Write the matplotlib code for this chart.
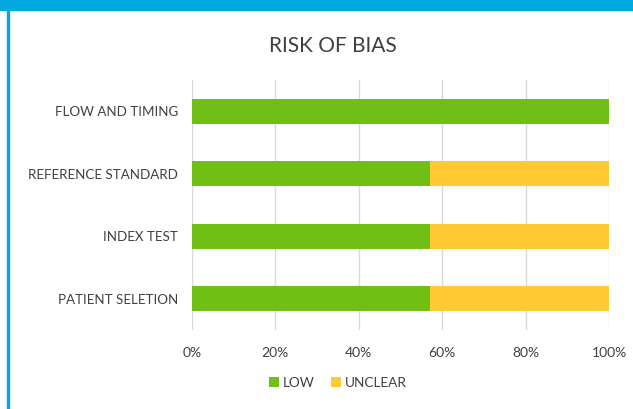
import numpy as np
import matplotlib.pyplot as plt
from matplotlib.patches import Rectangle

# Risk of bias (QUADAS-2 style), share of studies per judgement
domains = ["PATIENT SELETION", "INDEX TEST", "REFERENCE STANDARD", "FLOW AND TIMING"]
low = [57.14, 57.14, 57.14, 100.0]
unclear = [42.86, 42.86, 42.86, 0.0]
xticks = [0, 20, 40, 60, 80, 100]
xtick_labels = ["0%", "20%", "40%", "60%", "80%", "100%"]

green = "#70BF16"
yellow = "#FFC933"
text_col = "#404040"
grid_col = "#D9D9D9"

plt.rcParams["font.family"] = ["Lato", "DejaVu Sans"]

fig = plt.figure(figsize=(6.33, 4.09), dpi=100)
ax = fig.add_axes([192 / 633, 1 - 330 / 409, 417 / 633, 250 / 409])

y = np.arange(len(domains))
ax.barh(y, low, height=0.4, color=green, label="LOW", zorder=3)
ax.barh(y, unclear, left=low, height=0.4, color=yellow, label="UNCLEAR", zorder=3)

ax.set_xlim(0, 100)
ax.set_ylim(-0.5, len(domains) - 0.5)
ax.set_xticks(xticks)
ax.set_xticklabels(xtick_labels, fontsize=10, color=text_col)
ax.set_yticks(y)
ax.set_yticklabels(domains, fontsize=9.6, color=text_col)
ax.tick_params(length=0)
ax.tick_params(axis="y", pad=10)
ax.tick_params(axis="x", pad=12)
ax.grid(axis="x", color=grid_col, linewidth=1, zorder=0)
for s in ax.spines.values():
    s.set_visible(False)

fig.text(333 / 633, 1 - 46 / 409, "RISK OF BIAS", ha="center", va="center",
         fontsize=15, color=text_col)

fig.legend(loc="center", bbox_to_anchor=(338 / 633, 1 - 383 / 409), ncol=2,
           frameon=False, fontsize=9.8, handlelength=0.7, handleheight=0.7,
           handletextpad=0.3, columnspacing=1.2, labelcolor=text_col)

# blue frame of the slide
fig.patches.append(Rectangle((0, 1 - 10 / 409), 1, 10 / 409, transform=fig.transFigure,
                             color="#00A8DE", zorder=5))
fig.patches.append(Rectangle((7 / 633, 0), 1.5 / 633, 1, transform=fig.transFigure,
                             color="#00A8DE", zorder=5))

fig.savefig("out.png", dpi=100)
